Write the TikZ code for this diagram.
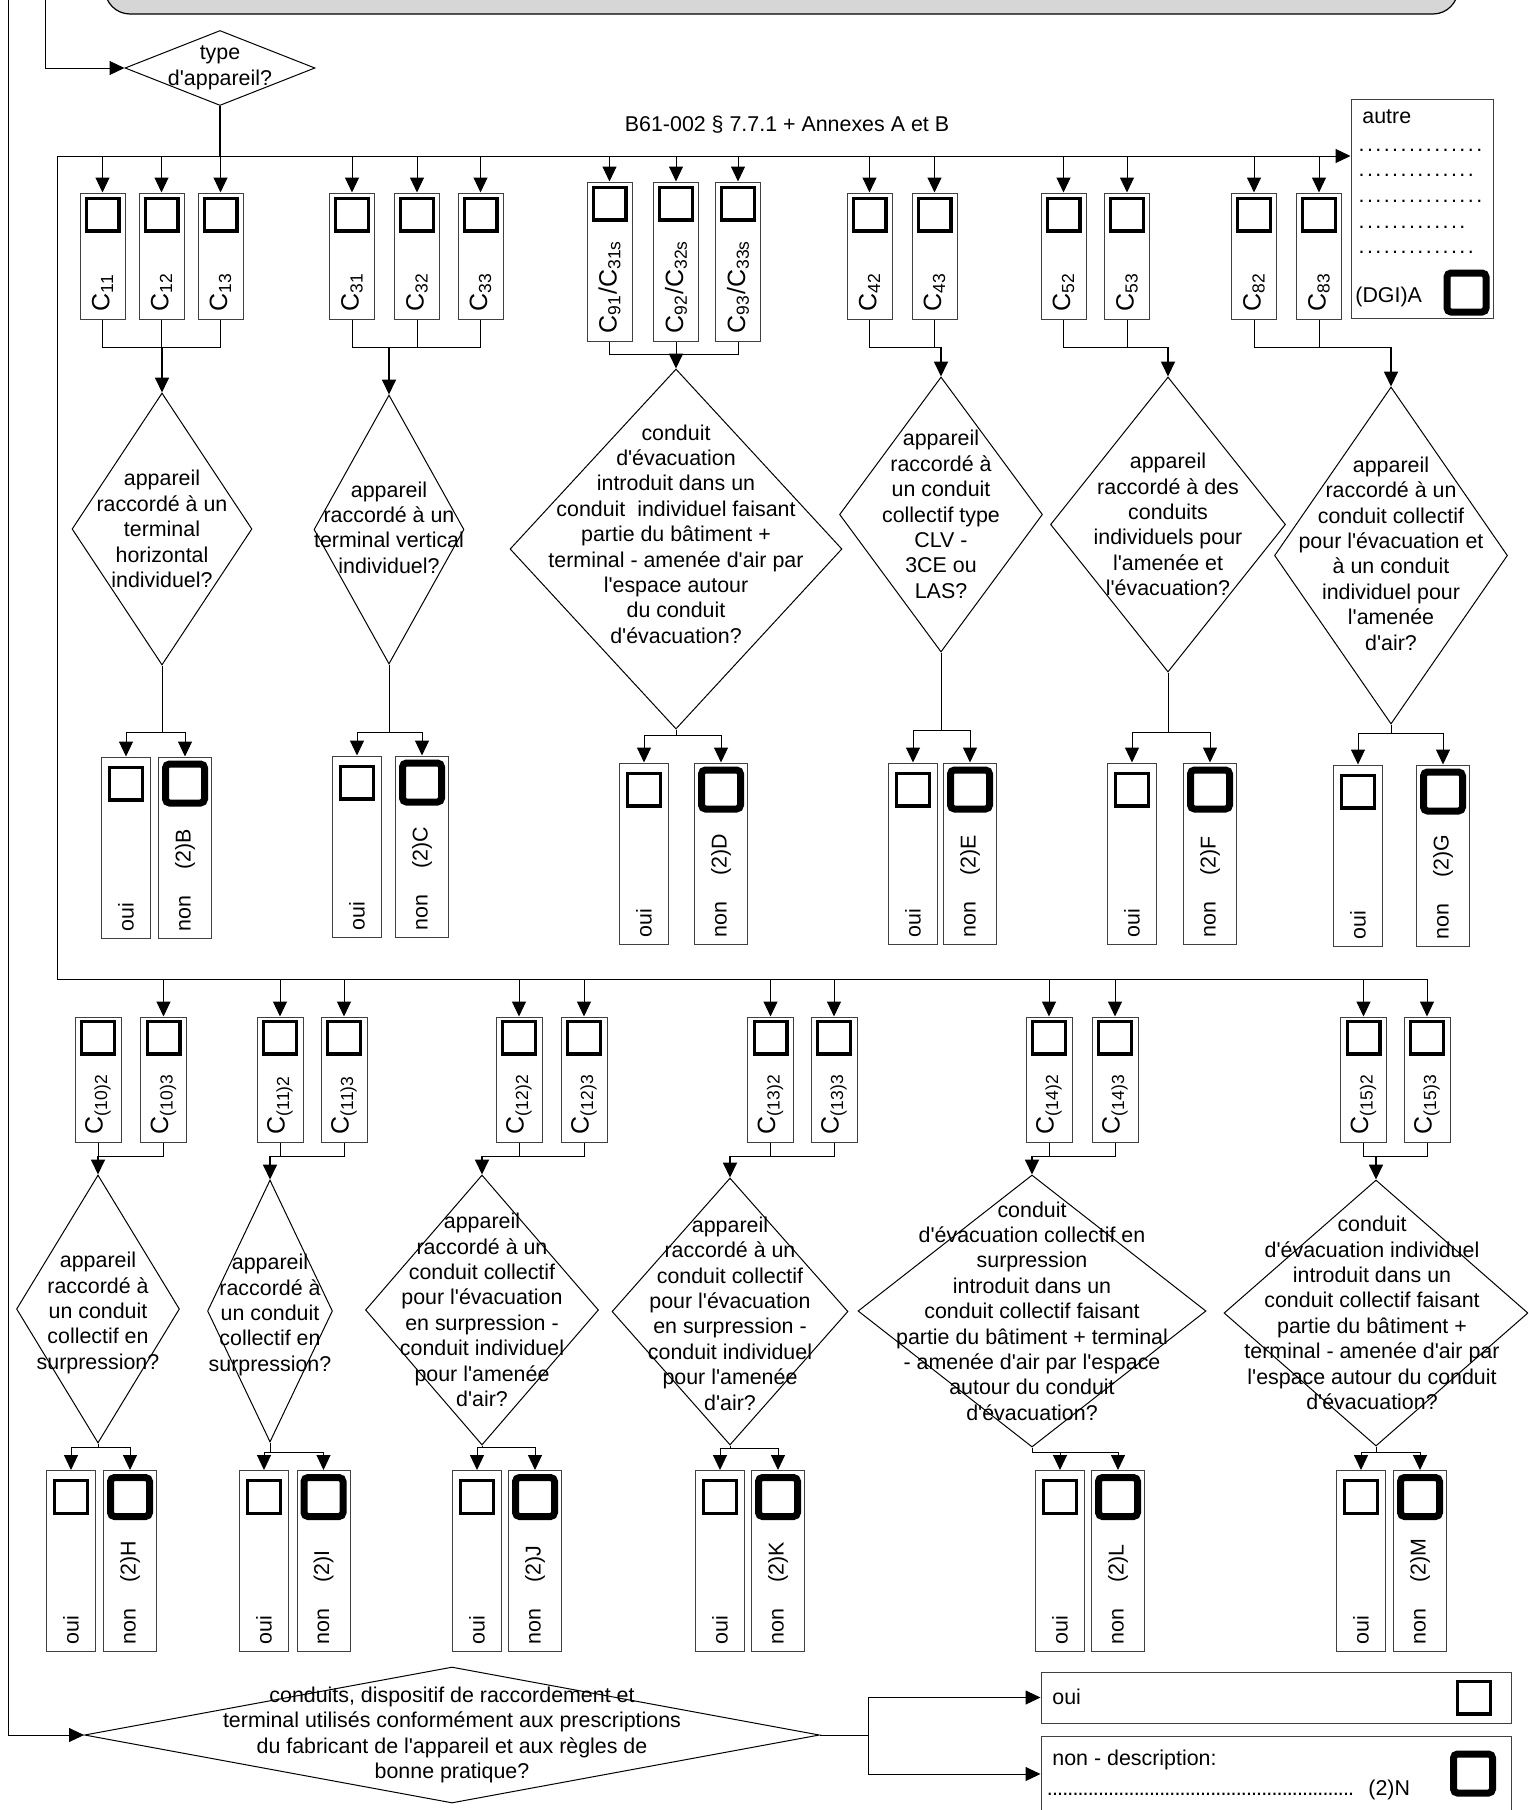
\documentclass[tikz,border=0pt]{standalone}
\usepackage{fontspec}
\setmainfont{Liberation Sans}[Ligatures=TeXOff]
\usetikzlibrary{arrows.meta,shapes.geometric}
\newcommand\dotline[2]{\hbox to #1{\leaders\hbox to #2{\hss.\hss}\hfill}}

\begin{document}
\begin{tikzpicture}[x=0.5pt,y=-0.5pt,font=\fontsize{10.7}{12.7}\selectfont]
\tikzset{
  typebox/.style={rectangle,draw=black!75,line width=0.5pt,minimum width=22.5pt,minimum height=63pt,inner sep=0pt},
  tallbox/.style={typebox,minimum height=79.5pt},
  lowbox/.style={typebox,minimum width=23pt,minimum height=62.5pt},
  ouibox/.style={typebox,minimum width=24.5pt,minimum height=90.5pt},
  nonbox/.style={typebox,minimum width=26.5pt,minimum height=90.5pt},
  widebox/.style={rectangle,draw=black!75,line width=0.5pt,inner sep=0pt},
  tick/.style={rectangle,draw=black,line width=1.7pt,minimum size=16.3pt,inner sep=0pt},
  bigtick/.style={rectangle,draw=black,line width=3.5pt,rounded corners=2pt,minimum size=19.5pt,inner sep=0pt},
  decision/.style={diamond,draw=black,line width=0.5pt,inner sep=0pt},
  dtext/.style={align=center,inner sep=0pt},
  ctext/.style={rotate=90,anchor=west,inner sep=0pt,font=\fontsize{12.5}{14}\selectfont},
  atext/.style={rotate=90,anchor=west,inner sep=0pt},
  link/.style={draw=black,line width=0.5pt},
  arrow/.style={link,-{Triangle[length=7.5pt,width=7pt]}},
  feed/.style={arrow,line width=0.9pt}
}
\useasboundingbox (0,0) rectangle (1528,1810);
\clip (0,0) rectangle (1528,1810);

% header
\node[rectangle,draw=black,line width=0.6pt,fill=black!16,rounded corners=12.5pt,minimum width=676.5pt,minimum height=60pt] (n_head) at (781.5,-46) {};
\node[decision,minimum width=95pt,minimum height=37.5pt] (n_type) at (220,68) {};
\node[dtext] (t_type) at (n_type) {type\\d'appareil?};
\node (t_ref) at (787,125) {B61-002 § 7.7.1 + Annexes A et B};
\coordinate (b_top) at (220,156);
\coordinate (b_low) at (57,979);

% autre
\node[widebox,minimum width=71pt,minimum height=109.5pt] (n_autre) at (1422,208.5) {};
\node[anchor=west,inner sep=0pt] (t_autre) at (1362,117) {autre};
\node[anchor=base west,inner sep=0pt] (t_dots1) at (1357,151) {\dotline{63.5pt}{4.2pt}};
\node[anchor=base west,inner sep=0pt] (t_dots2) at (1357,176) {\dotline{59.5pt}{4.2pt}};
\node[anchor=base west,inner sep=0pt] (t_dots3) at (1357,202) {\dotline{63.5pt}{4.2pt}};
\node[anchor=base west,inner sep=0pt] (t_dots4) at (1357,228) {\dotline{57pt}{4.2pt}};
\node[anchor=base west,inner sep=0pt] (t_dots5) at (1357,253) {\dotline{59.5pt}{4.2pt}};
\node[anchor=west,inner sep=0pt] (t_dgi) at (1355,297) {(DGI)A};
\node[bigtick] (x_autre) at (1466.5,292.5) {};

% types, first row
\node[typebox] (n_c11) at (102.5,256) {};
\node[typebox] (n_c12) at (161.5,256) {};
\node[typebox] (n_c13) at (220.5,256) {};
\node[typebox] (n_c31) at (352,256) {};
\node[typebox] (n_c32) at (417,256) {};
\node[typebox] (n_c33) at (480.5,256) {};
\node[tallbox] (n_c91) at (609.5,261.5) {};
\node[tallbox] (n_c92) at (676,261.5) {};
\node[tallbox] (n_c93) at (738,261.5) {};
\node[typebox] (n_c42) at (869.5,256) {};
\node[typebox] (n_c43) at (934.5,256) {};
\node[typebox] (n_c52) at (1063.5,256) {};
\node[typebox] (n_c53) at (1127,256) {};
\node[typebox] (n_c82) at (1254,256) {};
\node[typebox] (n_c83) at (1319,256) {};
\foreach \c in {c11,c12,c13,c31,c32,c33,c91,c92,c93,c42,c43,c52,c53,c82,c83}
  \node[tick] (x_\c) at ([yshift=-11pt]n_\c.north) {};
\node[ctext] (l_c11) at ([yshift=4pt]n_c11.south) {C\textsubscript{11}};
\node[ctext] (l_c12) at ([yshift=4pt]n_c12.south) {C\textsubscript{12}};
\node[ctext] (l_c13) at ([yshift=4pt]n_c13.south) {C\textsubscript{13}};
\node[ctext] (l_c31) at ([yshift=4pt]n_c31.south) {C\textsubscript{31}};
\node[ctext] (l_c32) at ([yshift=4pt]n_c32.south) {C\textsubscript{32}};
\node[ctext] (l_c33) at ([yshift=4pt]n_c33.south) {C\textsubscript{33}};
\node[ctext] (l_c91) at ([yshift=4pt]n_c91.south) {C\textsubscript{91}/C\textsubscript{31s}};
\node[ctext] (l_c92) at ([yshift=4pt]n_c92.south) {C\textsubscript{92}/C\textsubscript{32s}};
\node[ctext] (l_c93) at ([yshift=4pt]n_c93.south) {C\textsubscript{93}/C\textsubscript{33s}};
\node[ctext] (l_c42) at ([yshift=4pt]n_c42.south) {C\textsubscript{42}};
\node[ctext] (l_c43) at ([yshift=4pt]n_c43.south) {C\textsubscript{43}};
\node[ctext] (l_c52) at ([yshift=4pt]n_c52.south) {C\textsubscript{52}};
\node[ctext] (l_c53) at ([yshift=4pt]n_c53.south) {C\textsubscript{53}};
\node[ctext] (l_c82) at ([yshift=4pt]n_c82.south) {C\textsubscript{82}};
\node[ctext] (l_c83) at ([yshift=4pt]n_c83.south) {C\textsubscript{83}};

% questions, first row
\node[decision,minimum width=90pt,minimum height=136pt] (n_d1) at (162,529) {};
\node[decision,minimum width=75pt,minimum height=134.5pt] (n_d2) at (389,529.5) {};
\node[decision,minimum width=166pt,minimum height=180pt] (n_d3) at (676,549) {};
\node[decision,minimum width=101.5pt,minimum height=137.5pt] (n_d4) at (941,514.5) {};
\node[decision,minimum width=117.5pt,minimum height=147.5pt] (n_d5) at (1168,524.5) {};
\node[decision,minimum width=116.5pt,minimum height=168.5pt] (n_d6) at (1391,555.5) {};
\node[dtext] (t_d1) at (n_d1) {appareil\\raccordé à un\\terminal\\horizontal\\individuel?};
\node[dtext] (t_d2) at ([yshift=1pt]n_d2.center) {appareil\\raccordé à un\\terminal vertical\\individuel?};
\node[dtext] (t_d3) at ([yshift=7.5pt]n_d3.center) {conduit\\d'évacuation\\introduit dans un\\conduit~ individuel faisant\\partie du bâtiment +\\terminal - amenée d'air par\\l'espace autour\\du conduit\\d'évacuation?};
\node[dtext] (t_d4) at (n_d4) {appareil\\raccordé à\\un conduit\\collectif type\\CLV -\\3CE ou\\LAS?};
\node[dtext] (t_d5) at (n_d5) {appareil\\raccordé à des\\conduits\\individuels pour\\l'amenée et\\l'évacuation?};
\node[dtext] (t_d6) at ([yshift=1pt]n_d6.center) {appareil\\raccordé à un\\conduit collectif\\pour l'évacuation et\\à un conduit\\individuel pour\\l'amenée\\d'air?};

% answers, first row
\node[ouibox] (n_o1) at (126,847.5) {};
\node[nonbox] (n_n1) at (185,847.5) {};
\node[ouibox] (n_o2) at (357,846.5) {};
\node[nonbox] (n_n2) at (422,846.5) {};
\node[ouibox] (n_o3) at (644,853.5) {};
\node[nonbox] (n_n3) at (721,853.5) {};
\node[ouibox] (n_o4) at (913,853.5) {};
\node[nonbox] (n_n4) at (970,853.5) {};
\node[ouibox] (n_o5) at (1132,853.5) {};
\node[nonbox] (n_n5) at (1210,853.5) {};
\node[ouibox] (n_o6) at (1358,855.5) {};
\node[nonbox] (n_n6) at (1443,855.5) {};

% types, second row
\node[lowbox] (n_c102) at (98,1079.5) {};
\node[lowbox] (n_c103) at (163.5,1079.5) {};
\node[lowbox] (n_c112) at (280,1079.5) {};
\node[lowbox] (n_c113) at (344,1079.5) {};
\node[lowbox] (n_c122) at (519,1079.5) {};
\node[lowbox] (n_c123) at (584,1079.5) {};
\node[lowbox] (n_c132) at (770.5,1079.5) {};
\node[lowbox] (n_c133) at (834,1079.5) {};
\node[lowbox] (n_c142) at (1049,1079.5) {};
\node[lowbox] (n_c143) at (1115,1079.5) {};
\node[lowbox] (n_c152) at (1363.5,1079.5) {};
\node[lowbox] (n_c153) at (1427,1079.5) {};
\foreach \c/\s in {c102/(10)2,c103/(10)3,c112/(11)2,c113/(11)3,c122/(12)2,c123/(12)3,c132/(13)2,c133/(13)3,c142/(14)2,c143/(14)3,c152/(15)2,c153/(15)3}{
  \node[tick] (x_\c) at ([yshift=-10.5pt]n_\c.north) {};
  \node[ctext] (l_\c) at ([yshift=4pt]n_\c.south) {C\textsubscript{\s}};
}

% questions, second row
\node[decision,minimum width=81.5pt,minimum height=134pt] (n_d7) at (98,1309) {};
\node[decision,minimum width=62.5pt,minimum height=131pt] (n_d8) at (270,1311) {};
\node[decision,minimum width=116.5pt,minimum height=135pt] (n_d9) at (482,1310) {};
\node[decision,minimum width=118pt,minimum height=133.5pt] (n_d10) at (730,1311.5) {};
\node[decision,minimum width=174pt,minimum height=136pt] (n_d11) at (1032,1311) {};
\node[decision,minimum width=152pt,minimum height=133pt] (n_d12) at (1376,1313) {};
\node[dtext] (t_d7) at ([yshift=-2pt]n_d7.center) {appareil\\raccordé à\\un conduit\\collectif en\\surpression?};
\node[dtext] (t_d8) at ([yshift=-2pt]n_d8.center) {appareil\\raccordé à\\un conduit\\collectif en\\surpression?};
\node[dtext] (t_d9) at (n_d9) {appareil\\raccordé à un\\conduit collectif\\pour l'évacuation\\en surpression -\\conduit individuel\\pour l'amenée\\d'air?};
\node[dtext] (t_d10) at ([yshift=-1pt]n_d10.center) {appareil\\raccordé à un\\conduit collectif\\pour l'évacuation\\en surpression -\\conduit individuel\\pour l'amenée\\d'air?};
\node[dtext] (t_d11) at (n_d11) {conduit\\d'évacuation collectif en\\surpression\\introduit dans un\\conduit collectif faisant\\partie du bâtiment + terminal\\- amenée d'air par l'espace\\autour du conduit\\d'évacuation?};
\node[dtext] (t_d12) at ([xshift=-2pt]n_d12.center) {conduit\\d'évacuation individuel\\introduit dans un\\conduit collectif faisant\\partie du bâtiment +\\terminal - amenée d'air par\\l'espace autour du conduit\\d'évacuation?};

% answers, second row
\node[ouibox] (n_o7) at (71,1561) {};
\node[nonbox] (n_n7) at (130,1561) {};
\node[ouibox] (n_o8) at (264,1561) {};
\node[nonbox] (n_n8) at (323.5,1561) {};
\node[ouibox] (n_o9) at (477,1561) {};
\node[nonbox] (n_n9) at (535,1561) {};
\node[ouibox] (n_o10) at (720,1561) {};
\node[nonbox] (n_n10) at (778,1561) {};
\node[ouibox] (n_o11) at (1060,1561) {};
\node[nonbox] (n_n11) at (1118,1561) {};
\node[ouibox] (n_o12) at (1361,1561) {};
\node[nonbox] (n_n12) at (1420,1561) {};
\foreach \i/\r in {1/B,2/C,3/D,4/E,5/F,6/G,7/H,8/I,9/J,10/K,11/L,12/M}{
  \node[tick] (x_o\i) at ([yshift=-13.5pt]n_o\i.north) {};
  \node[bigtick] (x_n\i) at ([yshift=-13.5pt]n_n\i.north) {};
  \node[atext] (l_o\i) at ([yshift=3.5pt]n_o\i.south) {oui};
  \node[atext] (l_n\i) at ([yshift=3.5pt]n_n\i.south) {non\hspace{13pt}(2)\r};
}

% last question
\node[decision,minimum width=367.5pt,minimum height=68pt] (n_last) at (452,1735) {};
\node[dtext] (t_last) at (n_last) {conduits, dispositif de raccordement et\\terminal utilisés conformément aux prescriptions\\du fabricant de l'appareil et aux règles de\\bonne pratique?};
\node[widebox,minimum width=235pt,minimum height=25.5pt] (n_yes) at (1276,1697.5) {};
\node[widebox,minimum width=235pt,minimum height=52pt] (n_no) at (1276,1788) {};
\node[anchor=west,inner sep=0pt] (t_yes) at (1052,1697) {oui};
\node[tick] (x_yes) at (1474,1697.5) {};
\node[anchor=west,inner sep=0pt] (t_no) at (1052,1760) {non - description:};
\node[anchor=base west,inner sep=0pt] (t_nodots) at (1047,1795) {\dotline{154pt}{2.55pt}};
\node[anchor=base west,inner sep=0pt] (t_non) at (1368,1795) {(2)N};
\node[bigtick] (x_no) at (1473,1773.5) {};

% connectors, top
\draw[arrow] (45,0) |- (n_type.west);
\draw[link,line width=1pt] (n_type.south) -- (b_top);
\draw[arrow] (b_top) -- (b_top -| n_autre.west);
\draw[link] (b_top) -- (57,156) -- (b_low) -- (b_low -| n_c153.north);
\foreach \c in {c11,c12,c13,c31,c32,c33,c91,c92,c93,c42,c43,c52,c53,c82,c83}
  \draw[arrow] (n_\c.north |- b_top) -- (n_\c.north);
\foreach \c in {c103,c112,c113,c122,c123,c132,c133,c142,c143,c152,c153}
  \draw[arrow] (n_\c.north |- b_low) -- (n_\c.north);

% connectors, types to questions
\coordinate (j_1) at (162,347);
\coordinate (j_2) at (389,347);
\coordinate (j_3) at (676,354);
\coordinate (j_4) at (941,347);
\coordinate (j_5) at (1168,347);
\coordinate (j_6) at (1391,347);
\coordinate (j_7) at (98,1156);
\coordinate (j_8) at (270,1156);
\coordinate (j_9) at (482,1156);
\coordinate (j_10) at (730,1156);
\coordinate (j_11) at (1032,1156);
\coordinate (j_12) at (1376,1156);
\foreach \c/\j in {c11/1,c12/1,c13/1,c31/2,c32/2,c33/2,c91/3,c92/3,c93/3,c42/4,c43/4,c52/5,c53/5,c82/6,c83/6,
  c102/7,c103/7,c112/8,c113/8,c122/9,c123/9,c132/10,c133/10,c142/11,c143/11,c152/12,c153/12}
  \draw[link] (n_\c.south) |- (j_\j);
\foreach \j in {1,...,12}
  \draw[feed] (j_\j) -- (n_d\j.north);

% connectors, questions to answers
\coordinate (k_1) at (162,732);
\coordinate (k_2) at (389,732);
\coordinate (k_3) at (676,735);
\coordinate (k_4) at (941,730);
\coordinate (k_5) at (1168,732);
\coordinate (k_6) at (1391,733);
\coordinate (k_7) at (98,1447);
\coordinate (k_8) at (270,1452);
\coordinate (k_9) at (482,1447);
\coordinate (k_10) at (730,1448);
\coordinate (k_11) at (1032,1452);
\coordinate (k_12) at (1376,1452);
\foreach \k in {1,...,12}{
  \draw[link] (n_d\k.south) -- (k_\k);
  \draw[arrow] (k_\k) -| (n_o\k.north);
  \draw[arrow] (k_\k) -| (n_n\k.north);
}

% connectors, last question
\coordinate (k_yes) at (868,1735);
\coordinate (k_no) at (868,1774);
\draw[arrow] (8,0) |- (n_last.west);
\draw[link] (n_last.east) -- (k_yes);
\draw[arrow] (k_yes) |- (n_yes.west);
\draw[arrow] (k_yes) -- (k_no) -- (k_no -| n_no.west);
\end{tikzpicture}
\end{document}
